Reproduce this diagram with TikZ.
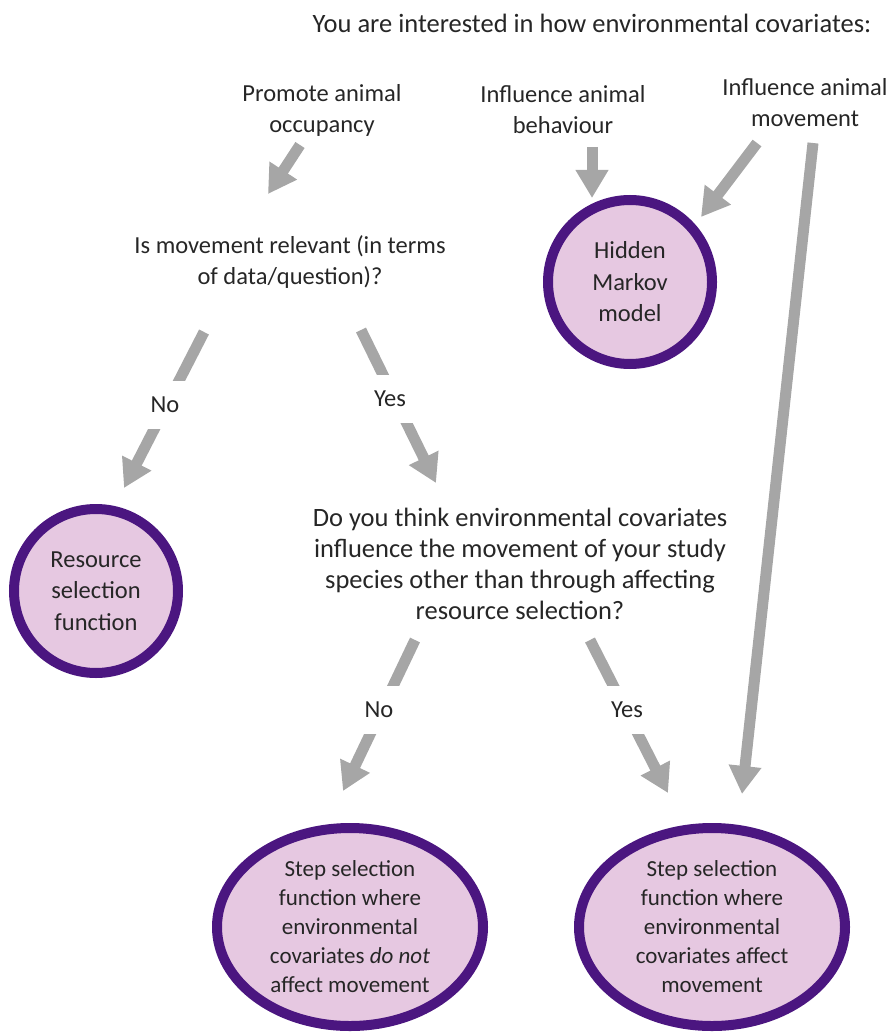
\documentclass[tikz,border=0pt]{standalone}
\usepackage{fontspec}
\setmainfont{Carlito}
\usetikzlibrary{arrows.meta,shapes.geometric}
\definecolor{arrowgray}{RGB}{166,166,166}
\definecolor{bordpurple}{RGB}{75,22,128}
\definecolor{fillpink}{RGB}{230,200,225}
\begin{document}
\begin{tikzpicture}[x=1pt,y=-1pt,
  txt/.style={align=center,font=\fontsize{24.5}{31}\selectfont,inner sep=0pt,text=black!85},
  bigtxt/.style={txt,font=\fontsize{26.5}{31}\selectfont},
  bigarrow/.style={draw=arrowgray,line width=11pt,-{Triangle[width=31pt,length=28pt]}},
  gap/.style={txt,fill=white,minimum width=58pt,minimum height=48pt},
  roundbox/.style={circle,draw=bordpurple,line width=10pt,fill=fillpink,minimum size=164pt,inner sep=0pt,align=center,font=\fontsize{24.5}{31.5}\selectfont,text=black!85},
  ovalbox/.style={ellipse,draw=bordpurple,line width=10pt,fill=fillpink,minimum width=266pt,minimum height=198pt,inner sep=0pt,align=center,font=\fontsize{23}{29}\selectfont,text=black!85}
]
\useasboundingbox (0,0) rectangle (894,1032);

% texts
\node[bigtxt] (head) at (592,23) {You are interested in how environmental covariates:};
\node[txt] (occ) at (322,110) {Promote animal\\occupancy};
\node[txt] (beh) at (563,110) {Influence animal\\behaviour};
\node[txt] (mov) at (805,103) {Influence animal\\movement};
\node[txt] (q1) at (290,262) {Is movement relevant (in terms\\of data/question)?};
\node[bigtxt] (q2) at (520,564) {Do you think environmental covariates\\influence the movement of your study\\species other than through affecting\\resource selection?};

% outcome nodes
\node[roundbox] (hmm) at (630,282) {Hidden\\Markov\\model};
\node[roundbox] (rsf) at (96,591) {Resource\\selection\\function};
\node[ovalbox] (ssfno) at (350,927) {Step selection\\function where\\environmental\\covariates \textit{do not}\\affect movement};
\node[ovalbox] (ssfyes) at (712,927) {Step selection\\function where\\environmental\\covariates affect\\movement};

% arrow endpoints
\coordinate (a1s) at (300,145); \coordinate (a1e) at (268,194);
\coordinate (a2s) at (592,147); \coordinate (a2e) at (592,198);
\coordinate (a3s) at (757,143); \coordinate (a3e) at (701,217);
\coordinate (a4s) at (813,143); \coordinate (a4e) at (742,794);
\coordinate (n1s) at (204,332); \coordinate (n1e) at (124,488);
\coordinate (y1s) at (361,330); \coordinate (y1e) at (436,483);
\coordinate (n2s) at (415,640); \coordinate (n2e) at (343,791);
\coordinate (y2s) at (590,640); \coordinate (y2e) at (668,793);

\draw[bigarrow] (a1s) -- (a1e);
\draw[bigarrow] (a2s) -- (a2e);
\draw[bigarrow] (a3s) -- (a3e);
\draw[bigarrow] (a4s) -- (a4e);
\draw[bigarrow] (n1s) -- (n1e);
\draw[bigarrow] (y1s) -- (y1e);
\draw[bigarrow] (n2s) -- (n2e);
\draw[bigarrow] (y2s) -- (y2e);

% labels breaking the arrows
\node[gap] (lno1) at (165,405) {No};
\node[gap] (lyes1) at (390,399) {Yes};
\node[gap] (lno2) at (379,710) {No};
\node[gap] (lyes2) at (627,710) {Yes};
\end{tikzpicture}
\end{document}
